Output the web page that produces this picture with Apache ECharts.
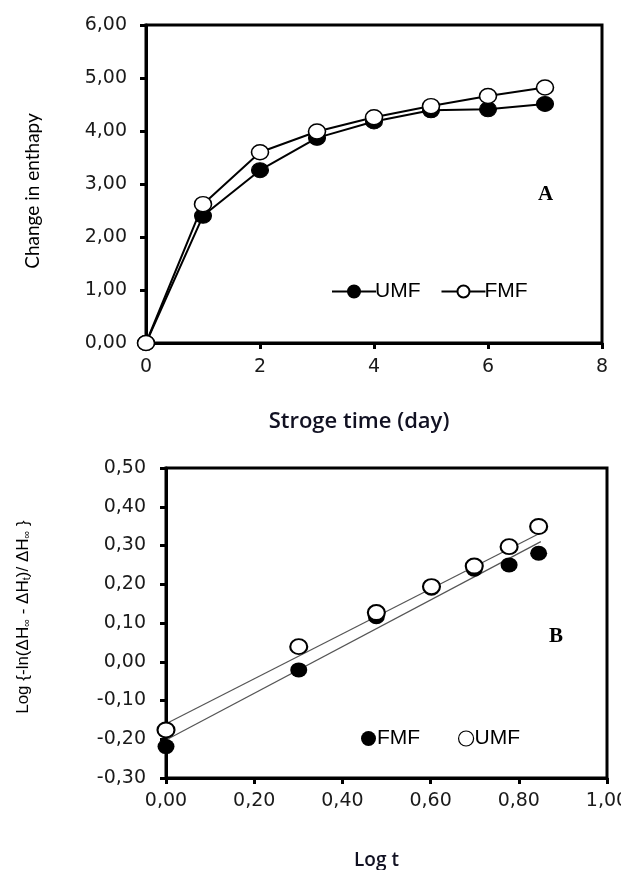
<!DOCTYPE html>
<html><head><meta charset="utf-8">
<script src="https://cdn.jsdelivr.net/npm/echarts@6/dist/echarts.min.js"></script>
<style>html,body{margin:0;padding:0;background:#fff}#c{width:621px;height:870px}</style>
</head><body><div id="c"></div>
<script>
// Chart A data
const daysA = [0, 1, 2, 3, 4, 5, 6, 7];
const umfA = [0, 2.40, 3.26, 3.87, 4.18, 4.39, 4.41, 4.51];
const fmfA = [0, 2.62, 3.60, 3.99, 4.26, 4.47, 4.66, 4.82];
// Chart B data
const logT = [0, 0.301, 0.477, 0.602, 0.699, 0.778, 0.845];
const fmfB = [-0.219, -0.021, 0.116, 0.190, 0.239, 0.250, 0.280];
const umfB = [-0.176, 0.039, 0.127, 0.194, 0.247, 0.297, 0.349];
// trend line endpoints
const umfFitX = [0, 0.85];
const umfFitY = [-0.16, 0.333];
const fmfFitX = [0, 0.85];
const fmfFitY = [-0.202, 0.31];

const pairs = (xs, ys) => xs.map((x, i) => [x, ys[i]]);
const comma = v => v.toFixed(2).replace('.', ',');
const tickFont = 'DejaVu Sans';
const axisLine = {show: true, onZero: false, lineStyle: {color: '#000', width: 3}};
const axisTick = {show: true, inside: false, length: 6, lineStyle: {color: '#000', width: 3}};

const chart = echarts.init(document.getElementById('c'), null, {renderer: 'canvas'});
chart.setOption({
  animation: false,
  backgroundColor: '#fff',
  grid: [
    {left: 146, right: 19, top: 25, bottom: 527, show: true, borderColor: '#000', borderWidth: 3, outerBoundsMode: 'none', containLabel: false},
    {left: 166, right: 14, top: 468, bottom: 92, show: true, borderColor: '#000', borderWidth: 3, outerBoundsMode: 'none', containLabel: false}
  ],
  xAxis: [
    {gridIndex: 0, type: 'value', min: 0, max: 8, interval: 2, axisLine, axisTick, splitLine: {show: false},
     axisLabel: {color: '#1a1a1a', fontFamily: tickFont, fontSize: 19, margin: 15},
     name: 'Stroge time (day)', nameLocation: 'middle', nameGap: 68,
     nameTextStyle: {color: '#111122', fontFamily: 'Open Sans', fontSize: 22, fontWeight: 600, padding: [0, 30, 0, 0]}},
    {gridIndex: 1, type: 'value', min: 0, max: 1, interval: 0.2, axisLine, axisTick, splitLine: {show: false},
     axisLabel: {color: '#1a1a1a', fontFamily: tickFont, fontSize: 19, margin: 14, formatter: comma},
     name: 'Log t', nameLocation: 'middle', nameGap: 73,
     nameTextStyle: {color: '#111122', fontFamily: 'Open Sans', fontSize: 19, fontWeight: 600, padding: [0, 20, 0, 0]}}
  ],
  yAxis: [
    {gridIndex: 0, type: 'value', min: 0, max: 6, interval: 1, axisLine, axisTick, splitLine: {show: false},
     axisLabel: {color: '#1a1a1a', fontFamily: tickFont, fontSize: 19, margin: 19, formatter: comma},
     name: 'Change in enthapy', nameLocation: 'middle', nameGap: 104, nameRotate: 90,
     nameTextStyle: {color: '#000', fontFamily: 'Lato', fontSize: 19, padding: [0, 14, 0, 0]}},
    {gridIndex: 1, type: 'value', min: -0.3, max: 0.5, interval: 0.1, axisLine, axisTick, splitLine: {show: false},
     axisLabel: {color: '#1a1a1a', fontFamily: tickFont, fontSize: 19, margin: 20, formatter: comma},
     name: 'Log {-ln(ΔH{s|∞} - ΔH{s|t})/ ΔH{s|∞} }', nameLocation: 'middle', nameGap: 134, nameRotate: 90,
     nameTextStyle: {color: '#000', fontFamily: 'Liberation Sans', fontSize: 17, padding: [0, 0, 0, 12],
       rich: {s: {fontSize: 11, fontFamily: 'Liberation Sans', color: '#000', verticalAlign: 'bottom', padding: [7, 0, 0, 0]}}}}
  ],
  legend: [
    {left: 326, top: 276, itemWidth: 44, itemHeight: 15, itemGap: 20, selectedMode: false,
     textStyle: {fontFamily: 'Liberation Sans', fontSize: 21, color: '#000', padding: [0, 0, 0, -6]},
     data: ['UMF', 'FMF'].map(n => ({name: n}))},
    {left: 356, top: 723, itemWidth: 15, itemHeight: 15, itemGap: 32, selectedMode: false,
     textStyle: {fontFamily: 'Liberation Sans', fontSize: 21, color: '#000', padding: [0, 0, 0, -4]},
     data: [{name: 'FMF '}, {name: 'UMF ', itemStyle: {borderWidth: 1.2}}]}
  ],
  graphic: [
    {type: 'text', left: 538, top: 184, style: {text: 'A', font: 'bold 21px "Liberation Serif"', fill: '#000'}},
    {type: 'text', left: 549, top: 626, style: {text: 'B', font: 'bold 21px "Liberation Serif"', fill: '#000'}}
  ],
  series: [
    {name: 'UMF', type: 'line', xAxisIndex: 0, yAxisIndex: 0, data: pairs(daysA, umfA),
     symbol: 'circle', symbolSize: [17, 15], lineStyle: {color: '#000', width: 2},
     itemStyle: {color: '#000', borderColor: '#000', borderWidth: 1}, z: 3},
    {name: 'FMF', type: 'line', xAxisIndex: 0, yAxisIndex: 0, data: pairs(daysA, fmfA),
     symbol: 'circle', symbolSize: [17, 15], lineStyle: {color: '#000', width: 2},
     itemStyle: {color: '#fff', borderColor: '#000', borderWidth: 1.5}, z: 4},
    {name: 'fitU', type: 'line', xAxisIndex: 1, yAxisIndex: 1, data: pairs(umfFitX, umfFitY),
     symbol: 'none', lineStyle: {color: '#555', width: 1.2}, z: 2, silent: true},
    {name: 'fitF', type: 'line', xAxisIndex: 1, yAxisIndex: 1, data: pairs(fmfFitX, fmfFitY),
     symbol: 'none', lineStyle: {color: '#555', width: 1.2}, z: 2, silent: true},
    {name: 'FMF ', type: 'scatter', xAxisIndex: 1, yAxisIndex: 1, data: pairs(logT, fmfB),
     symbol: 'circle', symbolSize: [17, 15], itemStyle: {color: '#000', opacity: 1}, z: 3},
    {name: 'UMF ', type: 'scatter', xAxisIndex: 1, yAxisIndex: 1, data: pairs(logT, umfB),
     symbol: 'circle', symbolSize: [17, 15], itemStyle: {color: '#fff', borderColor: '#000', borderWidth: 2, opacity: 1}, z: 4}
  ]
});
</script></body></html>
